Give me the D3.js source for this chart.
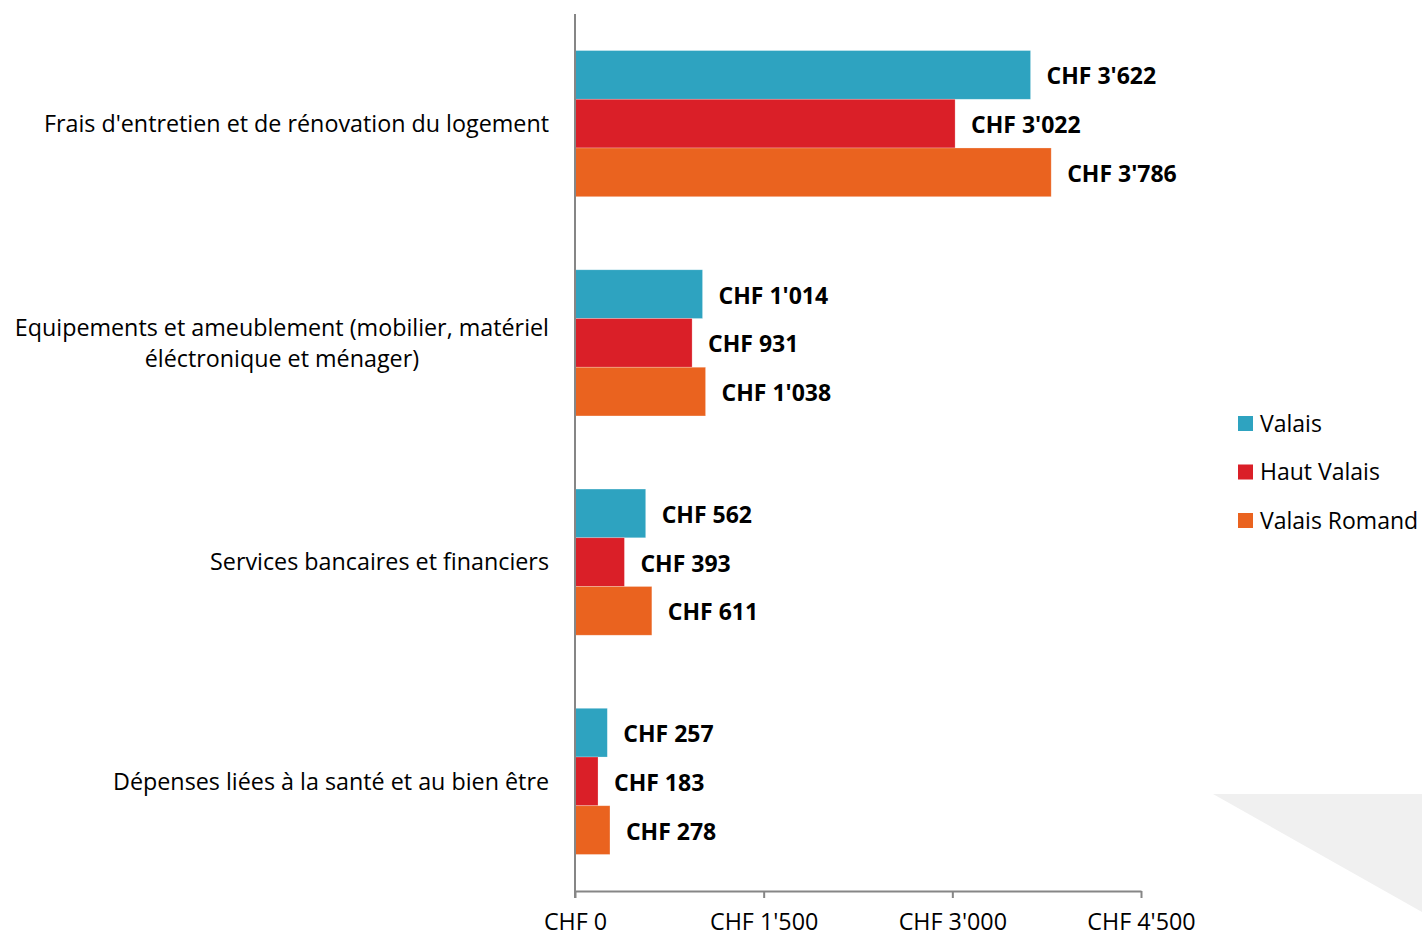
<!DOCTYPE html>
<html>
<head>
<meta charset="utf-8"/>
<title>Dépenses</title>
<script src="https://d3js.org/d3.v7.min.js"></script>
<style>
  body { margin: 0; background: #fff; }
  text { font-family: "Open Sans", "Noto Sans", sans-serif; }
</style>
</head>
<body>
<svg width="1422" height="937"></svg>
<script>
  var categories = [
    ["Frais d'entretien et de rénovation du logement"],
    ["Equipements et ameublement (mobilier, matériel", "éléctronique et ménager)"],
    ["Services bancaires et financiers"],
    ["Dépenses liées à la santé et au bien être"]
  ];
  var seriesNames = ["Valais", "Haut Valais", "Valais Romand"];
  var valais = [3622, 1014, 562, 257];
  var hautValais = [3022, 931, 393, 183];
  var valaisRomand = [3786, 1038, 611, 278];
  var tickValues = [0, 1500, 3000, 4500];
  var colors = ["#2ea3c0", "#da1f28", "#ea631f"];

  var series = [valais, hautValais, valaisRomand];
  var fs = 23.3;

  function fmt(v) {
    var s = String(v);
    if (s.length > 3) s = s.slice(0, s.length - 3) + "'" + s.slice(-3);
    return "CHF " + s;
  }

  var svg = d3.select("svg");

  // decoration bottom right
  svg.append("polygon")
    .attr("points", "1213,794 1422,794 1422,912")
    .attr("fill", "#f0f0f0");

  var x0 = 575, x1 = 1141, yTop = 14, yBot = 891;

  var x = d3.scaleLinear().domain([0, 4500]).range([x0, x1]);
  var y = d3.scaleBand().domain(d3.range(categories.length))
    .range([yTop, yBot]).paddingInner(1/3).paddingOuter(1/6);
  var ySub = d3.scaleBand().domain(d3.range(seriesNames.length))
    .range([0, y.bandwidth()]);

  var g = svg.append("g");

  categories.forEach(function(cat, i) {
    series.forEach(function(s, j) {
      var yy = y(i) + ySub(j);
      g.append("rect")
        .attr("x", x(0))
        .attr("y", yy)
        .attr("width", x(s[i]) - x(0))
        .attr("height", ySub.bandwidth())
        .attr("fill", colors[j])
        .attr("stroke", "#ffffff")
        .attr("stroke-opacity", 0.35)
        .attr("stroke-width", 0.7);
      g.append("text")
        .attr("x", x(s[i]) + 16)
        .attr("y", yy + ySub.bandwidth() / 2 + 1.5)
        .attr("dy", "0.35em")
        .attr("font-size", 23)
        .attr("font-weight", "bold")
        .attr("fill", "#000")
        .text(fmt(s[i]));
    });

    var cy = y(i) + y.bandwidth() / 2;
    var lh = 31;
    var t = g.append("text")
      .attr("text-anchor", cat.length > 1 ? "middle" : "end")
      .attr("font-size", fs)
      .attr("fill", "#000");
    cat.forEach(function(line, k) {
      t.append("tspan")
        .attr("x", 549)
        .attr("y", cy + (k - (cat.length - 1) / 2) * lh)
        .attr("dy", "0.35em")
        .text(line);
    });
    if (cat.length > 1) {
      // right-align the block, centre the lines inside it
      var w = 0;
      t.selectAll("tspan").each(function() { w = Math.max(w, this.getComputedTextLength()); });
      t.selectAll("tspan").attr("x", 549 - w / 2);
    }
  });

  // axes
  var xAxis = svg.append("g")
    .attr("transform", "translate(0," + yBot + ")")
    .call(d3.axisBottom(x).tickValues(tickValues).tickSize(7).tickSizeOuter(0).tickFormat(fmt));
  xAxis.select(".domain").attr("stroke", "#868686").attr("stroke-width", 2);
  xAxis.selectAll(".tick line").attr("stroke", "#868686").attr("stroke-width", 2);
  xAxis.selectAll(".tick text")
    .attr("font-size", fs)
    .attr("fill", "#000")
    .attr("y", 22)
    .attr("dy", "0.71em");

  svg.append("line")
    .attr("x1", x0).attr("x2", x0)
    .attr("y1", yTop).attr("y2", yBot + 7)
    .attr("stroke", "#868686").attr("stroke-width", 2);

  // legend
  var legend = svg.append("g").attr("transform", "translate(1238,416)");
  seriesNames.forEach(function(n, j) {
    legend.append("rect")
      .attr("x", 0).attr("y", j * 48.5)
      .attr("width", 15).attr("height", 15)
      .attr("fill", colors[j]);
    legend.append("text")
      .attr("x", 22).attr("y", j * 48.5 + 7.5)
      .attr("dy", "0.35em")
      .attr("font-size", 23)
      .attr("fill", "#000")
      .text(n);
  });
</script>
</body>
</html>
